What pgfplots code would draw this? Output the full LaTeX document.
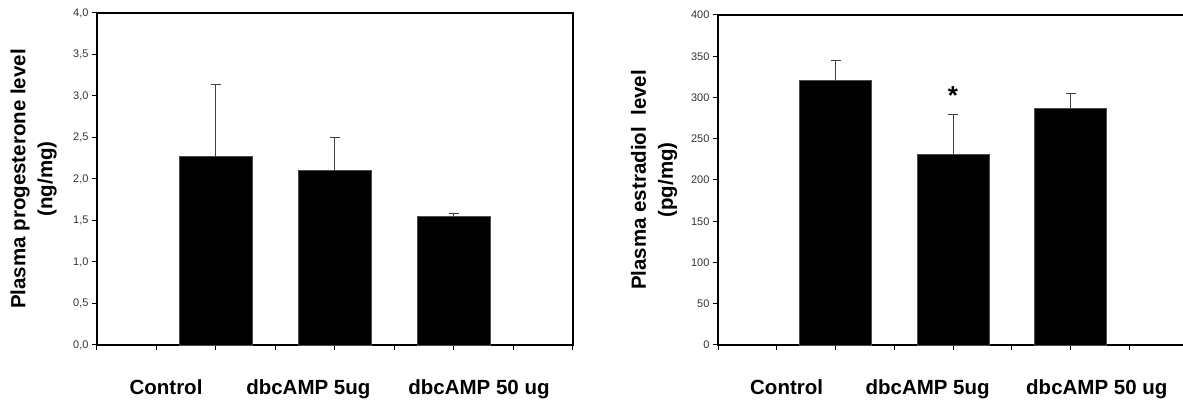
\documentclass[border=0pt]{standalone}
\usepackage{pgfplots}
\pgfplotsset{compat=1.18}
\usepackage{fontspec}
\setmainfont{Liberation Sans}
\begin{document}
\begin{tikzpicture}
\useasboundingbox (0,0) rectangle (1183pt,401pt);
\clip (0,0) rectangle (1183pt,401pt);
\tikzset{cat/.style={anchor=base, font=\fontsize{20.5}{24}\selectfont\bfseries}}
\pgfplotsset{
  panel/.style={
    anchor=south west, scale only axis,
    xmin=0, xmax=8, ymin=0, enlargelimits=false,
    xtick={0,...,8}, xticklabels={},
    tick align=outside, major tick length=5pt,
    xtick pos=bottom, ytick pos=left,
    tick style={black, line width=1pt},
    axis line style={black, line width=1.2pt},
    yticklabel style={font=\fontsize{11}{12}\selectfont, text=black!80},
    /pgf/number format/assume math mode=true,
    ybar, bar shift=0pt,
    clip=false,
    every axis y label/.style={rotate=90, anchor=center, align=center, font=\fontsize{20.5}{27}\selectfont\bfseries},
  },
  errs/.style={error bars/.cd, y dir=plus, y explicit,
    error bar style={line width=1pt, black!75},
    error mark options={rotate=90, mark size=5pt, line width=1pt, black!75}},
}
% Left panel: progesterone
\begin{axis}[panel, at={(97pt,56pt)}, width=476pt, height=332pt,
  ymax=4, ytick={0,0.5,...,4},
  yticklabel style={/pgf/number format/.cd, use comma, fixed, fixed zerofill, precision=1},
  ylabel={Plasma progesterone level\\(ng/mg)},
  every axis y label/.append style={at={(axis description cs:-0.133,0.5)}},
  bar width=73pt]
\addplot[fill=black, draw=black!70, errs] coordinates {
  (2,2.27) +- (0,0.87)
  (4,2.10) +- (0,0.40)
  (6,1.55) +- (0,0.03)
};
\node[cat] at (axis description cs:0.145,-0.1506) {Control};
\node[cat] at (axis description cs:0.444,-0.1506) {dbcAMP 5ug};
\node[cat] at (axis description cs:0.8025,-0.1506) {dbcAMP 50 ug};
\end{axis}
% Right panel: estradiol
\begin{axis}[panel, at={(718pt,56pt)}, width=470pt, height=330pt,
  ymax=400, ytick={0,50,...,400},
  ylabel={Plasma estradiol\ \ level\\(pg/mg)},
  every axis y label/.append style={at={(axis description cs:-0.136,0.5)}},
  bar width=72pt]
\addplot[fill=black, draw=black!70, errs] coordinates {
  (2,321) +- (0,24)
  (4,231) +- (0,48)
  (6,287) +- (0,18)
};
\node[font=\fontsize{26}{26}\selectfont\bfseries] at (axis cs:4,302) {*};
\node[cat] at (axis description cs:0.146,-0.1515) {Control};
\node[cat] at (axis description cs:0.446,-0.1515) {dbcAMP 5ug};
\node[cat] at (axis description cs:0.806,-0.1515) {dbcAMP 50 ug};
\end{axis}
\end{tikzpicture}
\end{document}
